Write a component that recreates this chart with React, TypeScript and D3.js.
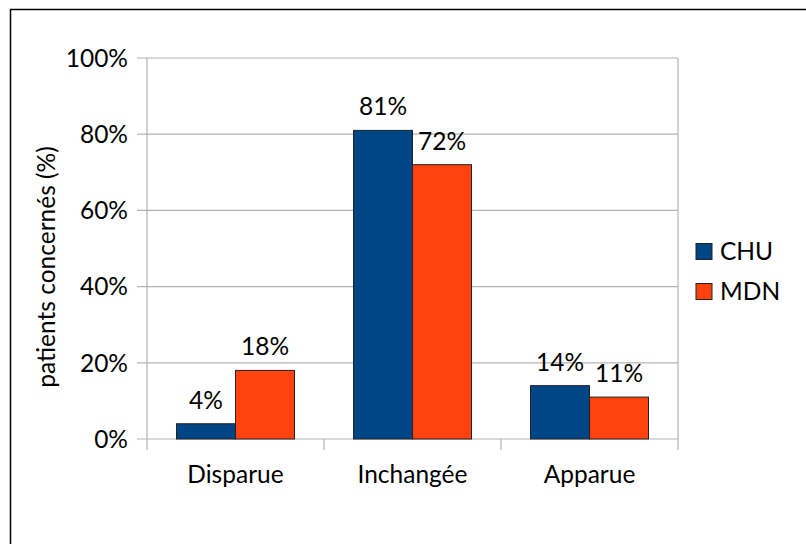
import React from "react";
import * as d3 from "d3";

const categories = ["Disparue", "Inchangée", "Apparue"];
const seriesNames = ["CHU", "MDN"];
const chuValues = [4, 81, 14];
const mdnValues = [18, 72, 11];
const yTicks = [0, 20, 40, 60, 80, 100];
const colors = ["#004586", "#ff420e"];
const yTitle = "patients concernés (%)";

const FONT = "Lato, 'Open Sans', sans-serif";

export default function App() {
  const W = 806, H = 544;
  const left = 147, right = 678, top = 58, bottom = 439;
  const x = d3.scaleBand<string>().domain(categories).range([left, right]).paddingInner(0).paddingOuter(0);
  const y = d3.scaleLinear().domain([0, 100]).range([bottom, top]);
  const series = [chuValues, mdnValues];
  const bw = x.bandwidth() / 3;
  const fs = 24.5;
  return (
    <svg width={W} height={H} style={{ position: "absolute", left: 0, top: 0 }}>
      <rect x={10.5} y={9.5} width={W} height={H} fill="#fff" stroke="#000" strokeWidth={1.5} />
      {yTicks.map((t) => (
        <g key={t}>
          <line x1={137} x2={right} y1={y(t)} y2={y(t)} stroke="#b3b3b3" strokeWidth={1.2} />
          <text x={128} y={y(t)} dy="0.36em" textAnchor="end" fontFamily={FONT} fontSize={fs} fill="#000">{t}%</text>
        </g>
      ))}
      <line x1={left} x2={left} y1={top} y2={450} stroke="#b3b3b3" strokeWidth={1.2} />
      <line x1={right} x2={right} y1={top} y2={450} stroke="#b3b3b3" strokeWidth={1.2} />
      {categories.slice(1).map((c) => (
        <line key={c} x1={x(c)!} x2={x(c)!} y1={bottom} y2={450} stroke="#b3b3b3" strokeWidth={1.2} />
      ))}
      {categories.map((c, i) => (
        <g key={c}>
          {series.map((vals, s) => {
            const bx = x(c)! + x.bandwidth() / 6 + s * bw;
            return (
              <g key={s}>
                <rect x={bx} y={y(vals[i])} width={bw} height={bottom - y(vals[i])} fill={colors[s]} stroke="#222" strokeWidth={1} />
                <text x={bx + bw / 2} y={y(vals[i]) - 15} textAnchor="middle" fontFamily={FONT} fontSize={fs} fill="#000">{vals[i]}%</text>
              </g>
            );
          })}
          <text x={x(c)! + x.bandwidth() / 2} y={483} textAnchor="middle" fontFamily={FONT} fontSize={fs} fill="#000">{c}</text>
        </g>
      ))}
      <text transform={`translate(55,267) rotate(-90)`} textAnchor="middle" fontFamily={FONT} fontSize={fs} fill="#000">{yTitle}</text>
      {seriesNames.map((n, s) => (
        <g key={n}>
          <rect x={696} y={243.5 + s * 40} width={16} height={16} fill={colors[s]} stroke="#222" strokeWidth={1} />
          <text x={720} y={260 + s * 40} fontFamily={FONT} fontSize={fs} fill="#000">{n}</text>
        </g>
      ))}
    </svg>
  );
}
